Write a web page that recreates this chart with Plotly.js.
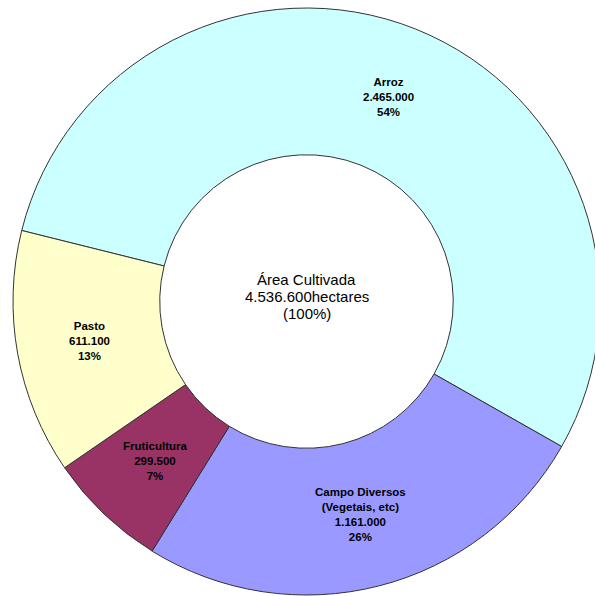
<!DOCTYPE html>
<html>
<head>
<meta charset="utf-8">
<script src="https://cdn.plot.ly/plotly-3.0.1.min.js"></script>
<style>
  html, body { margin: 0; padding: 0; overflow: hidden; background: #ffffff; }
  #chart { width: 613px; height: 603px; }
</style>
</head>
<body>
<div id="chart"></div>
<script>
const categories = ["Arroz", "Campo Diversos<br>(Vegetais, etc)", "Fruticultura", "Pasto"];
const hectares = [2465000, 1161000, 299500, 611100];
const valueLabels = ["2.465.000", "1.161.000", "299.500", "611.100"];
const percentLabels = ["54%", "26%", "7%", "13%"];
const sliceColors = ["#CCFFFF", "#9999FF", "#993366", "#FFFFCC"];
const centerLines = ["Área Cultivada", "4.536.600hectares", "(100%)"];

const rotationDeg = -76;
const holeFrac = 0.5;

const trace = {
  type: "pie",
  labels: categories,
  values: hectares,
  sort: false,
  direction: "clockwise",
  rotation: rotationDeg,
  hole: holeFrac,
  marker: { colors: sliceColors, line: { color: "#333333", width: 1 } },
  textinfo: "none",
  hoverinfo: "none",
  showlegend: false
};

// Slice labels placed at the middle of the ring, at each slice's mid angle (derived from the values)
const total = hectares.reduce((a, b) => a + b, 0);
const labelFont = { family: "Liberation Sans, Arial, sans-serif", size: 11.5, color: "#000000", weight: "bold" };
const annotations = [];
let cum = 0;
const rMid = 0.5 * (1 + holeFrac) / 2; // in paper units (pie radius = 0.5)
hectares.forEach((v, i) => {
  const midFrac = (cum + v / 2) / total;
  cum += v;
  const ang = (rotationDeg + midFrac * 360) * Math.PI / 180; // clockwise from 12 o'clock
  annotations.push({
    text: categories[i] + "<br>" + valueLabels[i] + "<br>" + percentLabels[i],
    x: 0.5 + rMid * Math.sin(ang),
    y: 0.5 + rMid * Math.cos(ang),
    xref: "paper", yref: "paper",
    xanchor: "center", yanchor: "middle",
    showarrow: false,
    font: labelFont
  });
});

const centerFont = { family: "Liberation Sans, Arial, sans-serif", size: 15, color: "#000000" };
centerLines.forEach((line, i) => {
  annotations.push({
    text: line,
    x: 0.5, y: 0.5, xref: "paper", yref: "paper",
    xanchor: "center", yanchor: "middle",
    yshift: 22 - 17 * i,
    showarrow: false,
    font: centerFont
  });
});

const layout = {
  width: 613,
  height: 603,
  margin: { l: 13, r: 13, t: 8, b: 8 },
  paper_bgcolor: "#ffffff",
  plot_bgcolor: "#ffffff",
  showlegend: false,
  annotations: annotations
};

Plotly.newPlot("chart", [trace], layout, { displayModeBar: false, staticPlot: true });
</script>
</body>
</html>
